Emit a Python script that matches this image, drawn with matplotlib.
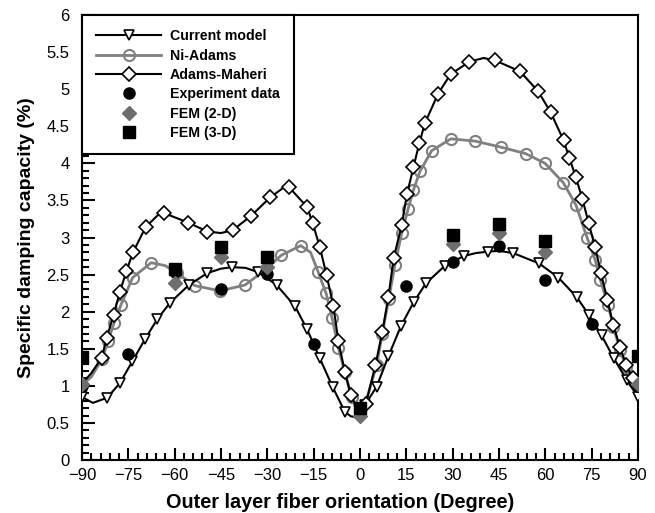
import matplotlib
matplotlib.use("Agg")
import matplotlib.pyplot as plt
from matplotlib.ticker import MultipleLocator

plt.rcParams['font.family'] = ['Liberation Sans', 'DejaVu Sans']

# Current model (curve points, marker points flagged by index)
cm_angle = [-90, -86.5, -81.8, -77.7, -73.7, -69.6, -65.6, -61.5, -55.4, -49.4, -45, -41.3,
            -37, -32.9, -27.0, -21.0, -17.1, -13.0, -8.8, -4.9, -3.0, -1.2, 0, 1.6, 5.4, 9.2,
            13.3, 17.4, 21.3, 27.5, 33.6, 37.5, 41.5, 45, 49.6, 58.0, 64.2, 70.1, 74.2, 78.2,
            82.2, 86.3, 90]
cm_value = [0.85, 0.77, 0.84, 1.04, 1.33, 1.63, 1.90, 2.12, 2.36, 2.52, 2.58, 2.60,
            2.59, 2.53, 2.36, 2.07, 1.76, 1.37, 0.98, 0.65, 0.59, 0.575, 0.61, 0.74, 0.99, 1.40,
            1.81, 2.13, 2.38, 2.62, 2.75, 2.79, 2.81, 2.82, 2.79, 2.65, 2.46, 2.20, 1.95, 1.68,
            1.37, 1.08, 0.85]
cm_marks = [0, 2, 3, 4, 5, 6, 7, 8, 9, 11, 13, 14, 15, 16, 17, 18, 19, 23, 24, 25, 26, 27,
            28, 29, 30, 32, 34, 35, 36, 37, 38, 39, 40, 41, 42]

# Ni-Adams
na_angle = [-90, -87, -83.5, -81.5, -79.6, -77.4, -73.6, -67.6, -63, -59.3, -53.4, -45.3,
            -37.2, -30.8, -25.5, -19.2, -16, -13.5, -11.0, -9.0, -7.0, -4.9, -2.7, -1, 0, 2,
            5.4, 7.2, 9.3, 11.3, 13.5, 15.6, 17.3, 19.4, 23.2, 29.4, 37.2, 45.5, 53.7, 59.9,
            65.8, 69.9, 73.5, 76.1, 77.8, 80.3, 82.0, 84.2, 86.2, 88.3, 90]
na_value = [1.01, 1.12, 1.36, 1.61, 1.85, 2.09, 2.46, 2.66, 2.62, 2.52, 2.35, 2.28,
            2.36, 2.56, 2.76, 2.89, 2.80, 2.53, 2.25, 1.91, 1.51, 1.18, 0.85, 0.66, 0.62, 0.80,
            1.28, 1.70, 2.17, 2.63, 3.06, 3.39, 3.64, 3.89, 4.17, 4.33, 4.30, 4.22, 4.13, 4.00,
            3.74, 3.44, 3.00, 2.70, 2.43, 2.09, 1.80, 1.48, 1.25, 1.08, 1.01]
na_marks = [2, 3, 4, 5, 6, 7, 9, 10, 11, 12, 13, 14, 15, 17, 18, 19, 20, 21, 22, 26, 27,
            28, 29, 30, 31, 32, 33, 34, 35, 36, 37, 38, 39, 40, 41, 42, 43, 44, 45, 46, 47,
            48, 49]

# Adams-Maheri
am_angle = [-90, -87, -83.6, -82.0, -79.8, -77.7, -75.6, -73.5, -69.4, -65, -63.5, -55.6,
            -49.4, -45, -41.2, -35.3, -29.1, -24.5, -23.0, -17.1, -15.3, -13.0, -10.8, -8.6,
            -7.0, -4.9, -3.0, -1, 0, 1.9, 5.0, 7.2, 9.2, 10.9, 13.5, 15.2, 17.3, 19.2, 21.0,
            25.3, 29.3, 35.4, 40, 43.6, 51.8, 57.7, 61.7, 65.9, 67.8, 69.9, 72.0, 74.0, 76.1,
            78.0, 80.1, 82.0, 84.1, 86.2, 88.3, 90]
am_value = [1.03, 1.17, 1.38, 1.65, 1.95, 2.27, 2.55, 2.80, 3.14, 3.32, 3.33, 3.20,
            3.08, 3.06, 3.10, 3.29, 3.54, 3.68, 3.68, 3.41, 3.19, 2.87, 2.49, 2.07,
            1.60, 1.19, 0.88, 0.70, 0.67, 0.76, 1.28, 1.72, 2.20, 2.72, 3.17, 3.58, 3.95, 4.27, 4.54,
            4.94, 5.20, 5.37, 5.42, 5.39, 5.24, 4.97, 4.69, 4.31, 4.07, 3.81, 3.52, 3.20, 2.87,
            2.52, 2.16, 1.82, 1.53, 1.28, 1.10, 1.03]
am_marks = [2, 3, 4, 5, 6, 7, 8, 10, 11, 12, 14, 15, 16, 18, 19, 20, 21, 22, 23, 24, 25,
            26, 29, 30, 31, 32, 33, 34, 35, 36, 37, 38, 39, 40, 41, 43, 44, 45, 46, 47, 48,
            49, 50, 51, 52, 53, 54, 55, 56, 57, 58]

# measured / FEM points
exp_angle = [-90, -75, -60, -45, -30, -15, 0, 15, 30, 45, 60, 75, 90]
exp_value = [1.0, 1.43, 2.53, 2.30, 2.51, 1.57, 0.66, 2.35, 2.67, 2.88, 2.43, 1.84, 1.0]
fem2_angle = [-90, -60, -45, -30, 0, 30, 45, 60, 90]
fem2_value = [1.03, 2.38, 2.74, 2.60, 0.60, 2.91, 3.06, 2.81, 1.03]
fem3_angle = [-90, -60, -45, -30, 0, 30, 45, 60, 90]
fem3_value = [1.39, 2.58, 2.87, 2.74, 0.70, 3.03, 3.18, 2.95, 1.40]

fig = plt.figure(figsize=(6.55, 5.13), dpi=100)
ax = fig.add_axes([82/655, 1 - 460/513, 556/655, 445/513])

ax.plot(cm_angle, cm_value, color='black', lw=1.5, marker='v', ms=7.5, mfc='white',
        mec='black', mew=1.2, markevery=cm_marks, label='Current model', zorder=3)
ax.plot(na_angle, na_value, color='#808080', lw=2, marker='o', ms=8, mfc='none',
        mec='#808080', mew=1.5, markevery=na_marks, label='Ni-Adams', zorder=2)
ax.plot(am_angle, am_value, color='black', lw=1.5, marker='D', ms=7, mfc='white',
        mec='black', mew=1.2, markevery=am_marks, label='Adams-Maheri', zorder=3)
ax.plot(exp_angle, exp_value, ls='none', marker='o', ms=8, color='black',
        label='Experiment data', zorder=4)
ax.plot(fem2_angle, fem2_value, ls='none', marker='D', ms=7, color='#6e6e6e',
        label='FEM (2-D)', zorder=4)
ax.plot(fem3_angle, fem3_value, ls='none', marker='s', ms=8, color='black',
        label='FEM (3-D)', zorder=5)

ax.set_xlim(-90, 90)
ax.set_ylim(0, 6)
ax.xaxis.set_major_locator(MultipleLocator(15))
ax.xaxis.set_minor_locator(MultipleLocator(3))
ax.yaxis.set_major_locator(MultipleLocator(0.5))
ax.yaxis.set_minor_locator(MultipleLocator(0.1))
ax.yaxis.set_major_formatter(plt.FuncFormatter(lambda v, p: '%g' % v))
ax.tick_params(which='both', direction='in', top=False, right=False, width=1.5,
               labelsize=12)
ax.tick_params(which='major', length=9)
ax.tick_params(which='minor', length=5)
ax.tick_params(axis='x', pad=6)
ax.tick_params(axis='y', pad=9)
for s in ax.spines.values():
    s.set_linewidth(1.5)

ax.set_xlabel('Outer layer fiber orientation (Degree)', fontsize=14.3, fontweight='bold',
              labelpad=3)
ax.xaxis.set_label_coords(0.464, -0.075)
ax.set_ylabel('Specific damping capacity (%)', fontsize=14, fontweight='bold',
              labelpad=8)

leg = ax.legend(loc='upper left', borderaxespad=0, fancybox=False, framealpha=1,
                edgecolor='black', prop={'weight': 'bold', 'size': 10.2},
                handlelength=4.6, labelspacing=0.38, borderpad=1.0, handletextpad=0.6)
leg.get_frame().set_linewidth(1.5)

fig.savefig('out.png', dpi=100)
